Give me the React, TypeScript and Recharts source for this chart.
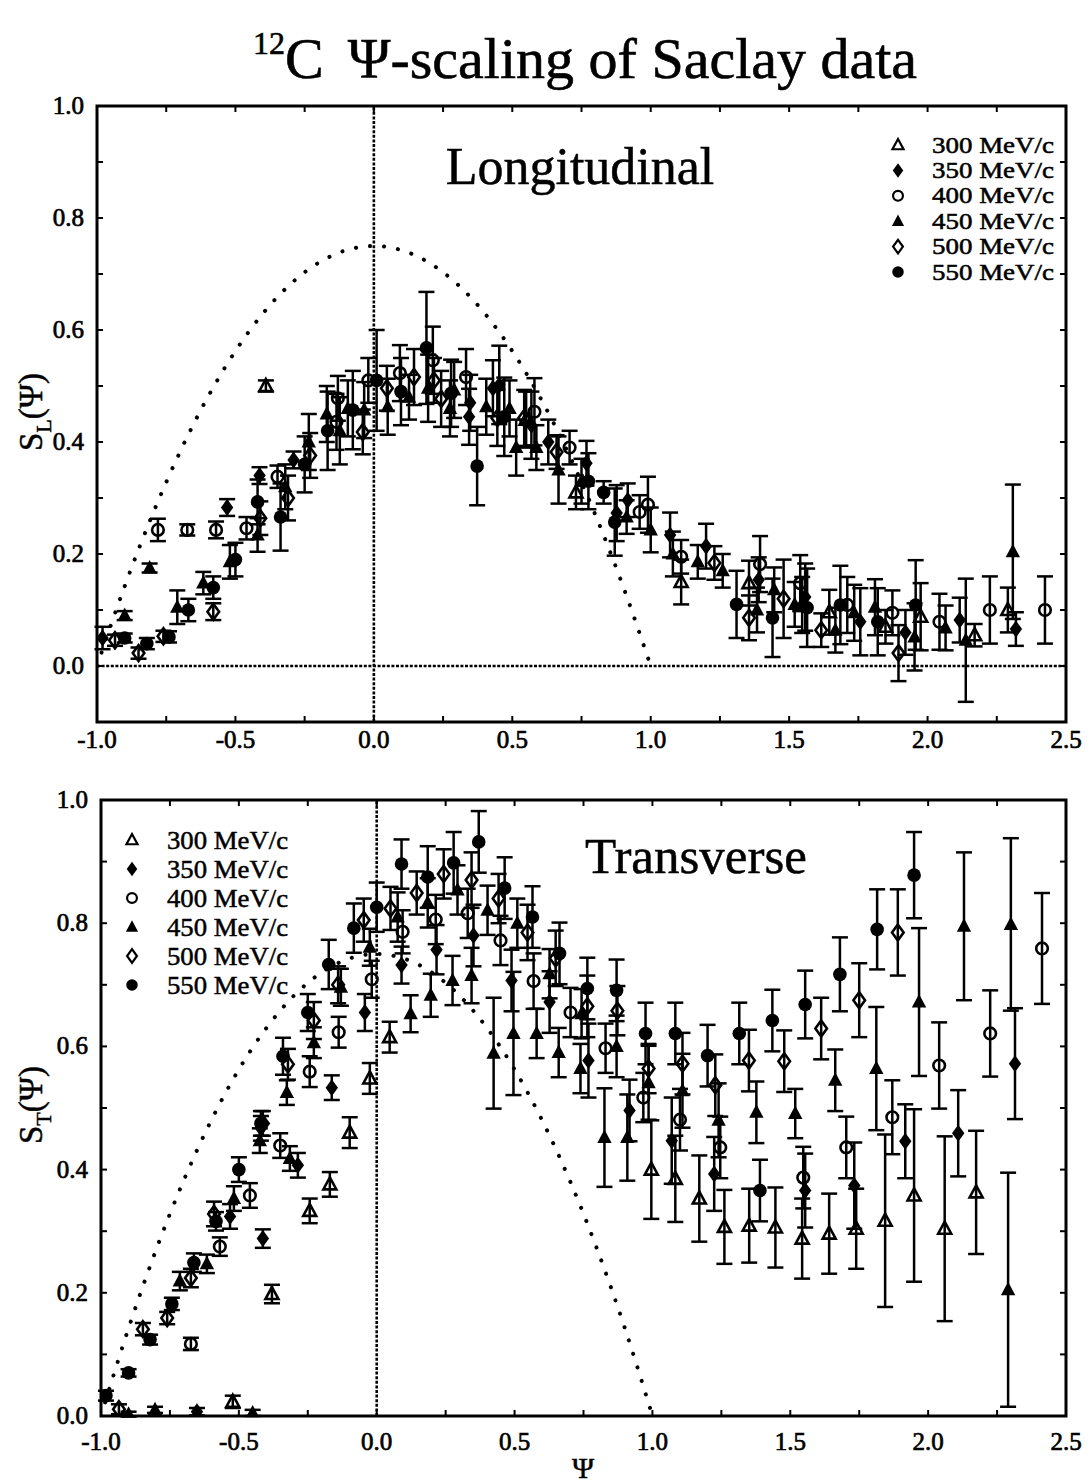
import React from 'react';
import { ComposedChart, Scatter, Line, XAxis, YAxis, ErrorBar, ReferenceLine, ReferenceArea } from 'recharts';

type Pt = [number, number, number];

const FONT = '"Liberation Serif", "Times New Roman", Times, serif';

const SERIES_NAMES = ['300 MeV/c', '350 MeV/c', '400 MeV/c', '450 MeV/c', '500 MeV/c', '550 MeV/c'];
const MARKERS = ['openTriangle', 'filledDiamond', 'openCircle', 'filledTriangle', 'openDiamond', 'filledCircle'];

const X_TICKS = [-1, -0.75, -0.5, -0.25, 0, 0.25, 0.5, 0.75, 1, 1.25, 1.5, 1.75, 2, 2.25, 2.5];
const X_MAJOR = [-1, -0.5, 0, 0.5, 1, 1.5, 2, 2.5];
const X_LABELS = ['-1.0', '-0.5', '0.0', '0.5', '1.0', '1.5', '2.0', '2.5'];
const YL_TICKS = [-0.1, 0, 0.1, 0.2, 0.3, 0.4, 0.5, 0.6, 0.7, 0.8, 0.9, 1.0];
const YT_TICKS = [0, 0.1, 0.2, 0.3, 0.4, 0.5, 0.6, 0.7, 0.8, 0.9, 1.0];
const Y_MAJOR = [0, 0.2, 0.4, 0.6, 0.8, 1.0];
const Y_LABELS = ['0.0', '0.2', '0.4', '0.6', '0.8', '1.0'];

// dotted model curve
const CURVE_PSI = [-1.0, -0.9, -0.8, -0.7, -0.6, -0.5, -0.4, -0.3, -0.2, -0.1, 0, 0.1, 0.2, 0.3, 0.4, 0.5, 0.6, 0.7, 0.8, 0.9, 1.0];
const CURVE_S = [0, 0.1425, 0.27, 0.3825, 0.48, 0.5625, 0.63, 0.6825, 0.72, 0.7425, 0.75, 0.7425, 0.72, 0.6825, 0.63, 0.5625, 0.48, 0.3825, 0.27, 0.1425, 0];

// Longitudinal  [psi, S_L, error]
const L300: Pt[] = [[-0.39, 0.5, 0.01], [0.55, 0.44, 0.05], [0.73, 0.31, 0.03], [1.11, 0.15, 0.04], [1.355, 0.148, 0.04], [1.547, 0.109, 0.05], [1.645, 0.096, 0.04], [1.848, 0.07, 0.03], [1.975, 0.088, 0.06], [2.17, 0.055, 0.02], [2.29, 0.1, 0.04]];
const L350: Pt[] = [[-0.98, 0.05, 0.02], [-0.53, 0.283, 0.015], [-0.413, 0.34, 0.015], [-0.29, 0.368, 0.015], [0.348, 0.47, 0.05], [0.344, 0.445, 0.05], [0.43, 0.496, 0.05], [0.453, 0.502, 0.07], [0.569, 0.43, 0.06], [0.63, 0.4, 0.04], [0.768, 0.362, 0.04], [0.877, 0.273, 0.05], [0.917, 0.296, 0.03], [1.07, 0.234, 0.04], [1.2, 0.214, 0.04], [1.39, 0.154, 0.04], [1.558, 0.123, 0.06], [1.757, 0.079, 0.06], [1.92, 0.06, 0.04], [2.116, 0.082, 0.04], [2.319, 0.066, 0.03]];
const L400: Pt[] = [[-0.78, 0.243, 0.02], [-0.674, 0.243, 0.01], [-0.57, 0.243, 0.015], [-0.46, 0.246, 0.02], [-0.348, 0.338, 0.02], [-0.13, 0.478, 0.04], [-0.135, 0.436, 0.05], [-0.02, 0.51, 0.04], [0.094, 0.523, 0.05], [0.213, 0.546, 0.06], [0.333, 0.516, 0.05], [0.58, 0.454, 0.06], [0.707, 0.39, 0.03], [0.96, 0.275, 0.03], [0.99, 0.288, 0.05], [1.11, 0.195, 0.03], [1.395, 0.182, 0.05], [1.54, 0.148, 0.05], [1.71, 0.109, 0.05], [1.873, 0.095, 0.04], [2.043, 0.079, 0.05], [2.225, 0.1, 0.06], [2.424, 0.1, 0.06]];
const L450: Pt[] = [[-0.9, 0.09, 0.008], [-0.81, 0.175, 0.008], [-0.71, 0.105, 0.03], [-0.616, 0.148, 0.02], [-0.52, 0.186, 0.03], [-0.42, 0.234, 0.03], [-0.32, 0.32, 0.04], [-0.235, 0.4, 0.05], [-0.17, 0.45, 0.05], [-0.123, 0.42, 0.06], [-0.094, 0.46, 0.05], [-0.035, 0.457, 0.05], [0.05, 0.463, 0.05], [0.127, 0.48, 0.04], [0.196, 0.496, 0.06], [0.29, 0.493, 0.05], [0.275, 0.46, 0.05], [0.406, 0.463, 0.05], [0.49, 0.46, 0.05], [0.514, 0.39, 0.05], [0.587, 0.39, 0.04], [0.667, 0.35, 0.06], [0.75, 0.33, 0.04], [0.913, 0.266, 0.03], [1.0, 0.243, 0.04], [1.08, 0.2, 0.04], [1.17, 0.186, 0.03], [1.26, 0.17, 0.03], [1.384, 0.1, 0.04], [1.446, 0.136, 0.04], [1.52, 0.11, 0.04], [1.667, 0.064, 0.04], [1.735, 0.095, 0.05], [1.81, 0.105, 0.05], [1.953, 0.052, 0.06], [2.065, 0.068, 0.04], [2.138, 0.046, 0.11], [2.308, 0.204, 0.12]];
const L500: Pt[] = [[-0.935, 0.046, 0.01], [-0.85, 0.023, 0.01], [-0.76, 0.053, 0.01], [-0.58, 0.097, 0.015], [-0.41, 0.264, 0.03], [-0.31, 0.3, 0.04], [-0.23, 0.376, 0.04], [-0.04, 0.418, 0.04], [0.047, 0.496, 0.04], [0.145, 0.516, 0.05], [0.217, 0.51, 0.04], [0.243, 0.477, 0.05], [0.446, 0.443, 0.05], [0.543, 0.443, 0.05], [0.66, 0.382, 0.03], [1.23, 0.184, 0.03], [1.355, 0.086, 0.04], [1.48, 0.12, 0.07], [1.616, 0.064, 0.03], [1.895, 0.023, 0.05]];
const L550: Pt[] = [[-0.9, 0.05, 0.008], [-0.82, 0.04, 0.01], [-0.74, 0.052, 0.01], [-0.67, 0.1, 0.02], [-0.58, 0.14, 0.02], [-0.5, 0.19, 0.03], [-0.42, 0.293, 0.04], [-0.337, 0.266, 0.06], [-0.25, 0.36, 0.05], [-0.167, 0.42, 0.07], [-0.076, 0.457, 0.07], [0.01, 0.51, 0.09], [0.098, 0.49, 0.06], [0.19, 0.568, 0.1], [0.279, 0.487, 0.06], [0.373, 0.357, 0.07], [0.471, 0.445, 0.07], [0.775, 0.33, 0.05], [0.83, 0.31, 0.02], [0.87, 0.257, 0.06], [1.31, 0.11, 0.06], [1.44, 0.086, 0.07], [1.565, 0.104, 0.07], [1.685, 0.109, 0.07], [1.82, 0.079, 0.06], [1.957, 0.109, 0.08]];

// Transverse  [psi, S_T, error]
const T300: Pt[] = [[-0.522, 0.023, 0.01], [-0.38, 0.198, 0.015], [-0.243, 0.333, 0.02], [-0.17, 0.376, 0.02], [-0.098, 0.46, 0.025], [-0.025, 0.548, 0.025], [0.047, 0.615, 0.025], [0.996, 0.4, 0.08], [1.083, 0.385, 0.07], [1.17, 0.353, 0.07], [1.261, 0.307, 0.06], [1.351, 0.309, 0.06], [1.446, 0.306, 0.065], [1.543, 0.288, 0.065], [1.641, 0.296, 0.065], [1.739, 0.304, 0.065], [1.844, 0.317, 0.14], [1.949, 0.358, 0.14], [2.06, 0.304, 0.15], [2.174, 0.363, 0.1]];
const T350: Pt[] = [[-0.652, 0.007, 0.006], [-0.532, 0.324, 0.02], [-0.42, 0.467, 0.02], [-0.413, 0.288, 0.015], [-0.286, 0.407, 0.02], [-0.163, 0.533, 0.02], [-0.043, 0.655, 0.03], [0.09, 0.732, 0.03], [0.217, 0.757, 0.04], [0.351, 0.78, 0.05], [0.489, 0.707, 0.05], [0.627, 0.672, 0.05], [0.768, 0.577, 0.06], [0.917, 0.496, 0.05], [1.07, 0.447, 0.07], [1.224, 0.393, 0.06], [1.554, 0.366, 0.06], [1.732, 0.374, 0.07], [1.917, 0.446, 0.06], [2.109, 0.459, 0.07], [2.315, 0.572, 0.09]];
const T400: Pt[] = [[-0.674, 0.117, 0.01], [-0.569, 0.275, 0.015], [-0.46, 0.358, 0.02], [-0.35, 0.439, 0.02], [-0.243, 0.559, 0.025], [-0.138, 0.623, 0.025], [-0.018, 0.709, 0.03], [0.094, 0.786, 0.035], [0.214, 0.806, 0.04], [0.33, 0.816, 0.04], [0.449, 0.772, 0.04], [0.569, 0.706, 0.045], [0.703, 0.655, 0.04], [0.83, 0.597, 0.04], [0.967, 0.517, 0.04], [1.1, 0.481, 0.05], [1.246, 0.436, 0.05], [1.547, 0.387, 0.05], [1.703, 0.436, 0.05], [1.87, 0.485, 0.06], [2.04, 0.569, 0.07], [2.225, 0.621, 0.07], [2.413, 0.759, 0.09]];
const T450: Pt[] = [[-0.9, 0.003, 0.004], [-0.804, 0.01, 0.005], [-0.714, 0.219, 0.015], [-0.616, 0.247, 0.015], [-0.518, 0.353, 0.02], [-0.45, 0.005, 0.005], [-0.424, 0.447, 0.02], [-0.315, 0.418, 0.02], [-0.326, 0.525, 0.02], [-0.228, 0.606, 0.025], [-0.13, 0.696, 0.03], [-0.025, 0.761, 0.03], [0.076, 0.81, 0.04], [0.123, 0.653, 0.03], [0.185, 0.833, 0.04], [0.196, 0.683, 0.035], [0.275, 0.707, 0.04], [0.293, 0.854, 0.04], [0.344, 0.715, 0.045], [0.402, 0.821, 0.04], [0.424, 0.589, 0.09], [0.496, 0.621, 0.1], [0.51, 0.8, 0.04], [0.58, 0.621, 0.04], [0.627, 0.718, 0.04], [0.66, 0.59, 0.04], [0.739, 0.564, 0.04], [0.743, 0.653, 0.04], [0.826, 0.452, 0.08], [0.87, 0.6, 0.05], [0.909, 0.452, 0.07], [0.986, 0.541, 0.06], [1.109, 0.528, 0.06], [1.24, 0.48, 0.06], [1.377, 0.493, 0.05], [1.518, 0.491, 0.04], [1.663, 0.545, 0.05], [1.812, 0.564, 0.1], [1.967, 0.672, 0.12], [2.13, 0.795, 0.12], [2.29, 0.205, 0.19], [2.3, 0.798, 0.14]];
const T500: Pt[] = [[-0.935, 0.011, 0.008], [-0.848, 0.141, 0.01], [-0.76, 0.159, 0.01], [-0.674, 0.224, 0.015], [-0.59, 0.328, 0.02], [-0.413, 0.475, 0.02], [-0.322, 0.571, 0.025], [-0.228, 0.642, 0.03], [-0.14, 0.7, 0.03], [-0.047, 0.805, 0.035], [0.05, 0.824, 0.035], [0.145, 0.849, 0.035], [0.243, 0.88, 0.04], [0.344, 0.87, 0.045], [0.442, 0.84, 0.04], [0.547, 0.785, 0.045], [0.649, 0.743, 0.045], [0.764, 0.665, 0.05], [0.873, 0.658, 0.04], [0.986, 0.564, 0.04], [1.109, 0.572, 0.05], [1.228, 0.537, 0.05], [1.35, 0.577, 0.05], [1.478, 0.576, 0.05], [1.612, 0.629, 0.05], [1.75, 0.675, 0.06], [1.89, 0.785, 0.07]];
const T550: Pt[] = [[-0.982, 0.033, 0.008], [-0.9, 0.07, 0.006], [-0.822, 0.124, 0.008], [-0.743, 0.182, 0.01], [-0.663, 0.249, 0.015], [-0.583, 0.316, 0.015], [-0.5, 0.4, 0.02], [-0.42, 0.475, 0.02], [-0.34, 0.584, 0.03], [-0.25, 0.655, 0.03], [-0.174, 0.733, 0.04], [-0.083, 0.792, 0.04], [0.0, 0.826, 0.04], [0.09, 0.896, 0.04], [0.185, 0.875, 0.05], [0.279, 0.898, 0.05], [0.37, 0.932, 0.05], [0.464, 0.857, 0.05], [0.565, 0.81, 0.05], [0.663, 0.751, 0.05], [0.764, 0.694, 0.05], [0.87, 0.691, 0.05], [0.975, 0.621, 0.05], [1.083, 0.621, 0.05], [1.2, 0.585, 0.05], [1.315, 0.621, 0.05], [1.39, 0.366, 0.05], [1.435, 0.642, 0.05], [1.554, 0.668, 0.055], [1.68, 0.717, 0.06], [1.815, 0.79, 0.065], [1.949, 0.878, 0.07]];

const L_SERIES = [L300, L350, L400, L450, L500, L550];
const T_SERIES = [T300, T350, T400, T450, T500, T550];

const toPts = (a: Pt[]) => a.map(([x, y, e]) => ({ x, y, e }));
const CURVE = CURVE_PSI.map((x, i) => ({ x, y: CURVE_S[i] }));

function Marker({ kind, cx, cy, scale = 1 }: { kind: string; cx: number; cy: number; scale?: number }) {
  if (cx == null || cy == null || isNaN(cx) || isNaN(cy)) return null;
  const s = scale;
  const sw = 2.6 * s;
  switch (kind) {
    case 'openTriangle':
      return <polygon points={`${cx},${cy - 7 * s} ${cx + 6.5 * s},${cy + 5 * s} ${cx - 6.5 * s},${cy + 5 * s}`} fill="none" stroke="#000" strokeWidth={sw} />;
    case 'filledTriangle':
      return <polygon points={`${cx},${cy - 8 * s} ${cx + 7.2 * s},${cy + 5.5 * s} ${cx - 7.2 * s},${cy + 5.5 * s}`} fill="#000" />;
    case 'openDiamond':
      return <polygon points={`${cx},${cy - 8 * s} ${cx + 5.8 * s},${cy} ${cx},${cy + 8 * s} ${cx - 5.8 * s},${cy}`} fill="none" stroke="#000" strokeWidth={sw} />;
    case 'filledDiamond':
      return <polygon points={`${cx},${cy - 8.5 * s} ${cx + 6.2 * s},${cy} ${cx},${cy + 8.5 * s} ${cx - 6.2 * s},${cy}`} fill="#000" />;
    case 'openCircle':
      return <circle cx={cx} cy={cy} r={5.8 * s} fill="none" stroke="#000" strokeWidth={sw} />;
    default:
      return <circle cx={cx} cy={cy} r={6.8 * s} fill="#000" />;
  }
}

const near = (a: number, b: number) => Math.abs(a - b) < 1e-6;

type PanelProps = {
  series: Pt[][];
  yTicks: number[];
  yDomain: [number, number];
  top: number;
  height: number;
  plotLeft: number;
  plotTop: number;
  plotBottom: number;
  plotRight: number;
  xLabelGap: number;
  zeroH: boolean;
};

function Panel(p: PanelProps) {
  const W = 1087;
  const yAxisW = 60;
  const xAxisH = 30;
  const margin = {
    top: p.plotTop,
    right: W - p.plotRight,
    left: p.plotLeft - yAxisW,
    bottom: p.height - p.plotBottom - xAxisH,
  };
  const XTick = (props: any) => {
    const { x, payload } = props;
    const v = payload.value;
    const i = X_MAJOR.findIndex((m) => near(m, v));
    return (
      <g>
        <line x1={x} x2={x} y1={p.plotBottom} y2={p.plotBottom - 6} stroke="#000" strokeWidth={2} />
        <line x1={x} x2={x} y1={p.plotTop} y2={p.plotTop + 6} stroke="#000" strokeWidth={2} />
        {i >= 0 && (
          <text x={x} y={p.plotBottom + p.xLabelGap} textAnchor="middle" fontFamily={FONT} fontSize={25} fill="#000" stroke="#000" strokeWidth={0.7}>
            {X_LABELS[i]}
          </text>
        )}
      </g>
    );
  };
  const YTick = (props: any) => {
    const { y, payload } = props;
    const v = payload.value;
    const i = Y_MAJOR.findIndex((m) => near(m, v));
    return (
      <g>
        <line x1={p.plotLeft} x2={p.plotLeft + 6} y1={y} y2={y} stroke="#000" strokeWidth={2} />
        <line x1={p.plotRight} x2={p.plotRight - 6} y1={y} y2={y} stroke="#000" strokeWidth={2} />
        {i >= 0 && (
          <text x={p.plotLeft - 13} y={y + 8} textAnchor="end" fontFamily={FONT} fontSize={25} fill="#000" stroke="#000" strokeWidth={0.7}>
            {Y_LABELS[i]}
          </text>
        )}
      </g>
    );
  };
  return (
    <div style={{ position: 'absolute', left: 0, top: p.top, width: W, height: p.height }}>
      <ComposedChart width={W} height={p.height} margin={margin}>
        <XAxis
          dataKey="x"
          type="number"
          domain={[-1, 2.5]}
          ticks={X_TICKS}
          interval={0}
          allowDataOverflow
          axisLine={false}
          tickLine={false}
          height={xAxisH}
          tick={<XTick />}
        />
        <YAxis
          type="number"
          domain={p.yDomain}
          ticks={p.yTicks}
          interval={0}
          allowDataOverflow
          axisLine={false}
          tickLine={false}
          width={yAxisW}
          tick={<YTick />}
        />
        <ReferenceArea x1={-1} x2={2.5} y1={p.yDomain[0]} y2={p.yDomain[1]} fill="none" fillOpacity={0} stroke="#000" strokeWidth={3} />
        <ReferenceLine x={0} stroke="#000" strokeWidth={2.6} strokeDasharray="3 1.6" />
        {p.zeroH && <ReferenceLine y={0} stroke="#000" strokeWidth={2.6} strokeDasharray="3 1.6" />}
        <Line
          data={CURVE}
          dataKey="y"
          type="monotone"
          stroke="#000"
          strokeWidth={4}
          strokeDasharray="0.1 14"
          strokeLinecap="round"
          dot={false}
          activeDot={false}
          isAnimationActive={false}
        />
        {p.series.map((s, k) => (
          <Scatter
            key={k}
            name={SERIES_NAMES[k]}
            data={toPts(s)}
            dataKey="y"
            isAnimationActive={false}
            shape={(props: any) => <Marker kind={MARKERS[k]} cx={props.cx} cy={props.cy} />}
          >
            <ErrorBar dataKey="e" direction="y" width={8} strokeWidth={2.5} stroke="#000" />
          </Scatter>
        ))}
      </ComposedChart>
    </div>
  );
}

function LegendBlock({ x, textX, y0, dy, fontSize, textLen }: { x: number; textX: number; y0: number; dy: number; fontSize: number; textLen: number }) {
  return (
    <g>
      {SERIES_NAMES.map((n, k) => (
        <g key={n}>
          <Marker kind={MARKERS[k]} cx={x} cy={y0 + k * dy} scale={0.85} />
          <text
            x={textX}
            y={y0 + k * dy + fontSize * 0.34}
            fontFamily={FONT}
            fontSize={fontSize}
            fill="#000"
            stroke="#000"
            strokeWidth={0.5}
            textLength={textLen}
            lengthAdjust="spacingAndGlyphs"
          >
            {n}
          </text>
        </g>
      ))}
    </g>
  );
}

export default function App() {
  return (
    <div style={{ position: 'absolute', left: 0, top: 0, width: 1087, height: 1484, background: '#fff', overflow: 'hidden' }}>
      <Panel
        series={L_SERIES}
        yTicks={YL_TICKS}
        yDomain={[-0.1, 1.0]}
        top={0}
        height={780}
        plotLeft={97}
        plotTop={106}
        plotBottom={722}
        plotRight={1066}
        xLabelGap={26}
        zeroH={true}
      />
      <Panel
        series={T_SERIES}
        yTicks={YT_TICKS}
        yDomain={[0, 1.0]}
        top={780}
        height={704}
        plotLeft={101}
        plotTop={20}
        plotBottom={636}
        plotRight={1066}
        xLabelGap={34}
        zeroH={false}
      />
      <svg width={1087} height={1484} style={{ position: 'absolute', left: 0, top: 0, pointerEvents: 'none' }}>
        <text x={253} y={78} fontFamily={FONT} fontSize={58} fill="#000" stroke="#000" strokeWidth={0.6}>
          <tspan fontSize={32} dy={-24}>12</tspan>
          <tspan dy={24}>C</tspan>
          <tspan dx={24}>Ψ-scaling of Saclay data</tspan>
        </text>
        <text x={580} y={184} textAnchor="middle" fontFamily={FONT} fontSize={52} fill="#000" stroke="#000" strokeWidth={0.5}>Longitudinal</text>
        <text x={696} y={873} textAnchor="middle" fontFamily={FONT} fontSize={51} fill="#000" stroke="#000" strokeWidth={0.5}>Transverse</text>
        <text transform="translate(42,412) rotate(-90)" textAnchor="middle" fontFamily={FONT} fontSize={33} fill="#000" stroke="#000" strokeWidth={0.5}>
          S<tspan fontSize={22} dy={9}>L</tspan><tspan dy={-9}>(Ψ)</tspan>
        </text>
        <text transform="translate(42,1105) rotate(-90)" textAnchor="middle" fontFamily={FONT} fontSize={33} fill="#000" stroke="#000" strokeWidth={0.5}>
          S<tspan fontSize={22} dy={9}>T</tspan><tspan dy={-9}>(Ψ)</tspan>
        </text>
        <text x={583} y={1478} textAnchor="middle" fontFamily={FONT} fontSize={30} fill="#000" stroke="#000" strokeWidth={0.5}>Ψ</text>
        <LegendBlock x={898} textX={932} y0={145} dy={25.4} fontSize={22.5} textLen={122} />
        <LegendBlock x={132} textX={167} y0={840} dy={29} fontSize={26} textLen={121} />
      </svg>
    </div>
  );
}
